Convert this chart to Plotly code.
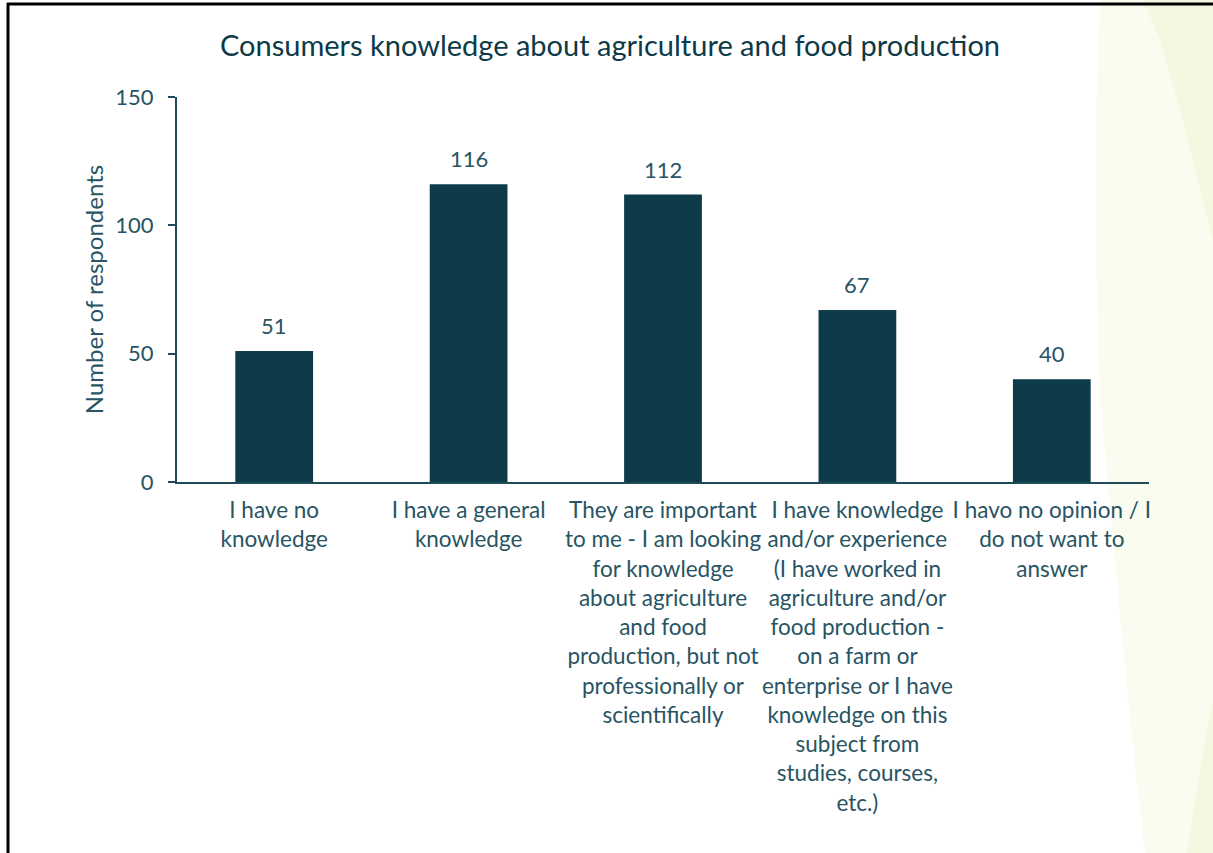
import plotly.graph_objects as go

# Survey answers and respondent counts
categories = [
    "I have no<br>knowledge",
    "I have a general<br>knowledge",
    "They are important<br>to me - I am looking<br>for knowledge<br>about agriculture<br>and food<br>production, but not<br>professionally or<br>scientifically",
    "I have knowledge<br>and/or experience<br>(I have worked in<br>agriculture and/or<br>food production -<br>on a farm or<br>enterprise or I have<br>knowledge on this<br>subject from<br>studies, courses,<br>etc.)",
    "I havo no opinion / I<br>do not want to<br>answer",
]
respondents = [51, 116, 112, 67, 40]
y_ticks = [0, 50, 100, 150]

W, H = 1213, 853
L, R, T, B = 177, 64, 97, 371

BAR = "#0e3b49"
TEXT = "#285463"
FONT = "Lato, 'Open Sans', sans-serif"


def px(x):
    return (x - L) / (W - L - R)


def py(y):
    return (H - B - y) / (H - T - B)


def path(points):
    d = "M " + " L ".join(f"{px(x):.5f},{py(y):.5f}" for x, y in points) + " Z"
    return d


fig = go.Figure(
    go.Bar(
        x=categories,
        y=respondents,
        marker=dict(color=BAR, line=dict(width=0)),
        width=0.4,
        hoverinfo="x+y",
    )
)

# value labels above each bar
for c, v in zip(categories, respondents):
    fig.add_annotation(
        x=c, y=v, text=str(v), showarrow=False, yanchor="bottom", yshift=10,
        font=dict(family=FONT, size=22, color=TEXT),
    )

shapes = [
    # pale green swath on the right edge
    dict(type="path", xref="paper", yref="paper", layer="below", line=dict(width=0),
         fillcolor="#fafcf0",
         path=path([(1100, 0), (1096, 120), (1096, 250), (1100, 400), (1115, 560),
                    (1130, 720), (1145, 853), (1213, 853), (1213, 0)])),
    dict(type="path", xref="paper", yref="paper", layer="below", line=dict(width=0),
         fillcolor="#f3f8e1",
         path=path([(1143, 0), (1160, 40), (1180, 110), (1200, 190), (1213, 240), (1213, 0)])),
    dict(type="path", xref="paper", yref="paper", layer="below", line=dict(width=0),
         fillcolor="#f3f8e1",
         path=path([(1187, 853), (1195, 800), (1205, 740), (1213, 700), (1213, 853)])),
    # frame lines
    dict(type="line", xref="paper", yref="paper", x0=px(8), x1=px(8), y0=py(3), y1=py(853),
         line=dict(color="black", width=3)),
    dict(type="line", xref="paper", yref="paper", x0=px(7), x1=px(1213), y0=py(4), y1=py(4),
         line=dict(color="black", width=3)),
]

fig.update_layout(
    width=W, height=H,
    margin=dict(l=L, r=R, t=T, b=B, pad=0),
    paper_bgcolor="white",
    plot_bgcolor="rgba(0,0,0,0)",
    showlegend=False,
    shapes=shapes,
    title=dict(
        text="Consumers knowledge about agriculture and food production",
        x=610 / W, xanchor="center", y=1 - 46 / H, yanchor="middle",
        font=dict(family=FONT, size=29, color="#0d3a48"),
    ),
    xaxis=dict(
        showline=True, linecolor="#1f4b59", linewidth=2,
        ticks="", showgrid=False, zeroline=False,
        tickfont=dict(family=FONT, size=22.5, color=TEXT),
        tickangle=0, ticklabelstandoff=7,
    ),
    yaxis=dict(
        range=[0, 150], tickvals=y_ticks,
        showline=True, linecolor="#1f4b59", linewidth=2,
        ticks="outside", ticklen=7, tickwidth=2, tickcolor="#1f4b59",
        showgrid=False, zeroline=False, ticklabelstandoff=10,
        tickfont=dict(family=FONT, size=22, color=TEXT),
        title=dict(text="Number of respondents", standoff=5,
                   font=dict(family=FONT, size=24, color=TEXT)),
    ),
    bargap=0.6,
)

fig.write_html("out.html")
